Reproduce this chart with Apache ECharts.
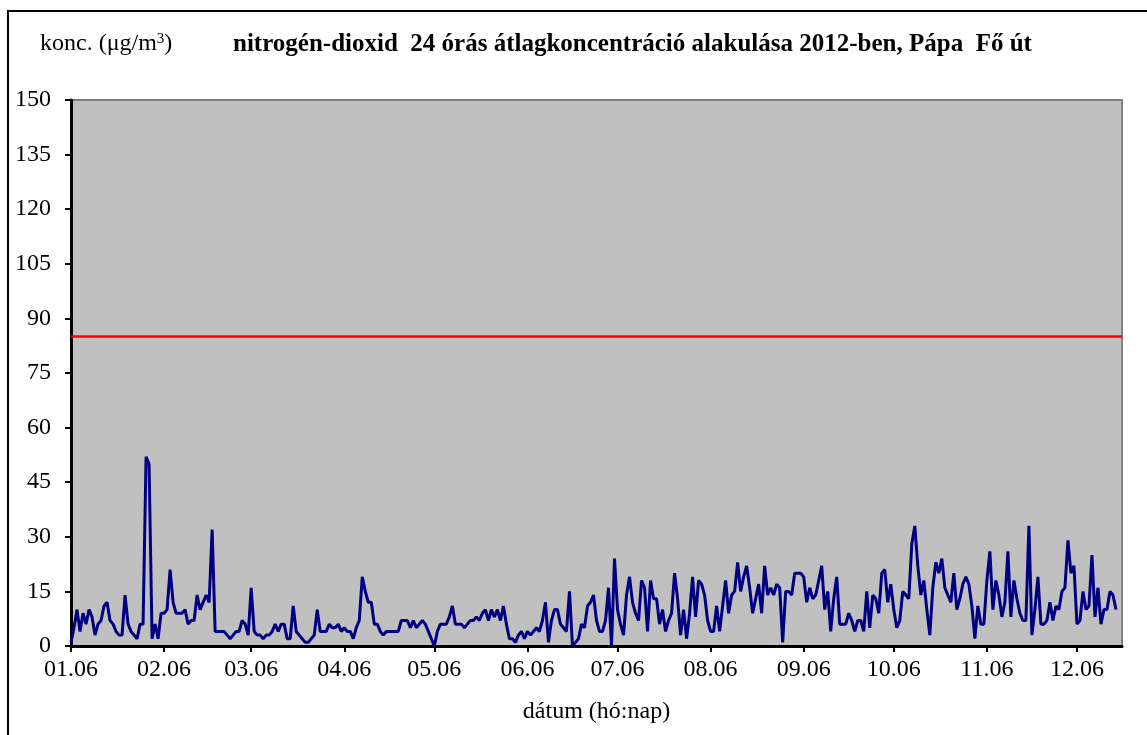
<!DOCTYPE html>
<html>
<head>
<meta charset="utf-8">
<title>nitrogén-dioxid 2012 Pápa</title>
<script src="https://cdn.jsdelivr.net/npm/echarts/dist/echarts.min.js"></script>
<style>
    html, body { margin: 0; padding: 0; background: #fff; }
    #main { width: 1147px; height: 735px; }
</style>
</head>
<body>
<div id="main"></div>
<script>
// napi adatok 2012.01.06-tól (µg/m3)
var startDay = [2012, 0, 6];
var dayCount = 351;
var no2Values = [
    1, 5, 10, 4, 9, 6, 10, 8, 3, 6, 7, 11, 12, 7, 6, 4, 3, 3, 14, 6,
    4, 3, 2, 6, 6, 52, 50, 2, 6, 2, 9, 9, 10, 21, 12, 9, 9, 9, 10, 6,
    7, 7, 14, 10, 12, 14, 12, 32, 4, 4, 4, 4, 3, 2, 3, 4, 4, 7, 6, 3,
    16, 4, 3, 3, 2, 3, 3, 4, 6, 4, 6, 6, 2, 2, 11, 4, 3, 2, 1, 1,
    2, 3, 10, 4, 4, 4, 6, 5, 5, 6, 4, 5, 4, 4, 2, 5, 7, 19, 15, 12,
    12, 6, 6, 4, 3, 4, 4, 4, 4, 4, 7, 7, 7, 5, 7, 5, 6, 7, 6, 4,
    2, 0, 4, 6, 6, 6, 8, 11, 6, 6, 6, 5, 6, 7, 7, 8, 7, 9, 10, 7,
    10, 8, 10, 7, 11, 6, 2, 2, 1, 3, 4, 2, 4, 3, 4, 5, 4, 7, 12, 1,
    7, 10, 10, 6, 5, 4, 15, 0, 1, 2, 6, 5, 11, 12, 14, 7, 4, 4, 7, 16,
    0, 24, 10, 6, 3, 14, 19, 12, 9, 7, 18, 16, 4, 18, 13, 13, 6, 10, 4, 7,
    9, 20, 13, 3, 10, 2, 9, 19, 8, 18, 17, 14, 7, 4, 4, 11, 4, 11, 18, 9,
    14, 15, 23, 15, 19, 22, 16, 9, 13, 17, 9, 22, 14, 16, 14, 17, 16, 1, 15, 15,
    14, 20, 20, 20, 19, 12, 16, 13, 14, 18, 22, 10, 15, 4, 13, 19, 6, 6, 6, 9,
    7, 4, 7, 7, 4, 15, 5, 14, 13, 9, 20, 21, 12, 17, 10, 5, 7, 15, 14, 13,
    28, 33, 22, 14, 18, 10, 3, 16, 23, 20, 24, 16, 14, 12, 20, 10, 13, 17, 19, 17,
    11, 2, 11, 6, 6, 18, 26, 10, 18, 14, 8, 12, 26, 8, 18, 13, 9, 7, 7, 33,
    3, 10, 19, 6, 6, 7, 12, 7, 11, 10, 15, 16, 29, 20, 22, 6, 7, 15, 10, 11,
    25, 8, 16, 6, 10, 10, 15, 14, 10
];
// határérték
var limitValue = 85;
var xTickLabels = ['01.06', '02.06', '03.06', '04.06', '05.06', '06.06',
    '07.06', '08.06', '09.06', '10.06', '11.06', '12.06'];
var yMin = 0, yMax = 150, yStep = 15;

// kategóriák: hó.nap
var categories = [];
var d = new Date(startDay[0], startDay[1], startDay[2]);
for (var i = 0; i < dayCount; i++) {
    var m = d.getMonth() + 1, n = d.getDate();
    categories.push((m < 10 ? '0' + m : m) + '.' + (n < 10 ? '0' + n : n));
    d.setDate(n + 1);
}

var showTick = function (idx, val) {
    return xTickLabels.indexOf(val) >= 0;
};

var serif = '"Liberation Serif", "Times New Roman", serif';
var myChart = echarts.init(document.getElementById('main'));

var option = {
    backgroundColor: '#fff',
    animation: false,
    title: [{
        text: 'konc. (μg/m{s|3})',
        left: 35, top: 27,
        textStyle: {
            fontFamily: serif, fontSize: 24, fontWeight: 'normal', color: '#000',
            rich: {
                s: { fontFamily: serif, fontSize: 15, color: '#000', verticalAlign: 'top', padding: [0, 0, 9, 0] }
            }
        }
    }, {
        text: 'nitrogén-dioxid  24 órás átlagkoncentráció alakulása 2012-ben, Pápa  Fő út',
        left: 228, top: 27,
        textStyle: { fontFamily: serif, fontSize: 25, fontWeight: 'bold', color: '#000' }
    }],
    graphic: [{
        type: 'rect',
        shape: { x: 8, y: 11, width: 1300, height: 900 },
        style: { fill: 'none', stroke: '#000', lineWidth: 2 }
    }],
    grid: {
        left: 71, top: 100, width: 1051, height: 546,
        show: true, backgroundColor: '#C0C0C0',
        borderColor: '#808080', borderWidth: 2
    },
    xAxis: {
        type: 'category',
        data: categories,
        boundaryGap: false,
        name: 'dátum (hó:nap)',
        nameLocation: 'middle',
        nameGap: 54,
        nameTextStyle: { fontFamily: serif, fontSize: 24, color: '#000' },
        axisLine: { lineStyle: { color: '#000', width: 3 } },
        axisTick: { show: true, interval: showTick, length: 6, lineStyle: { color: '#000', width: 2 } },
        axisLabel: { interval: showTick, margin: 12, fontFamily: serif, fontSize: 24, color: '#000' },
        splitLine: { show: false }
    },
    yAxis: {
        type: 'value',
        min: yMin, max: yMax, interval: yStep,
        axisLine: { show: true, lineStyle: { color: '#000', width: 3 } },
        axisTick: { show: true, length: 6, lineStyle: { color: '#000', width: 2 } },
        axisLabel: { margin: 20, fontFamily: serif, fontSize: 24, color: '#000' },
        splitLine: { show: false }
    },
    series: [{
        name: 'NO2',
        type: 'line',
        data: no2Values,
        showSymbol: false,
        symbol: 'none',
        lineStyle: { color: '#000080', width: 3 },
        markLine: {
            silent: true,
            symbol: ['none', 'none'],
            label: { show: false },
            lineStyle: { color: '#FF0000', width: 2.5, type: 'solid' },
            data: [{ yAxis: limitValue }]
        }
    }]
};

myChart.setOption(option);
</script>
</body>
</html>
